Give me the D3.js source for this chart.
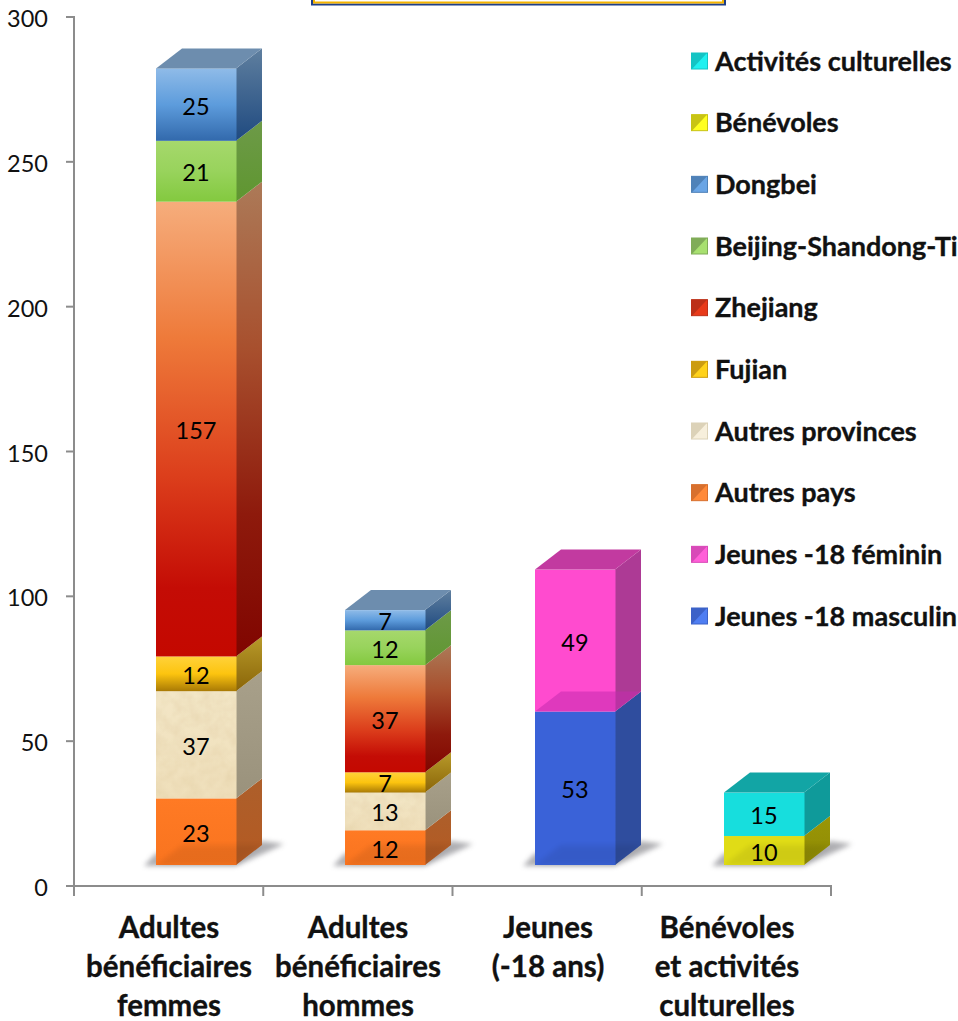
<!DOCTYPE html>
<html><head><meta charset="utf-8">
<script src="https://cdn.jsdelivr.net/npm/d3@7"></script>
<style>html,body{margin:0;padding:0;background:#fff}svg{display:block}text{font-family:Lato,"Open Sans",sans-serif}</style>
</head><body><svg id="c" width="958" height="1021"></svg>
<script>
const categories=[["Adultes","bénéficiaires","femmes"],["Adultes","bénéficiaires","hommes"],["Jeunes","(-18 ans)"],["Bénévoles","et activités","culturelles"]];
const seriesNames=["Jeunes -18 masculin","Jeunes -18 féminin","Autres pays","Autres provinces","Fujian","Zhejiang","Beijing-Shandong-Ti","Dongbei","Bénévoles","Activités culturelles"];
const masculin=[0,0,53,0],feminin=[0,0,49,0],autresPays=[23,12,0,0],autresProv=[37,13,0,0],fujian=[12,7,0,0],zhejiang=[157,37,0,0],beijing=[21,12,0,0],dongbei=[25,7,0,0],benevoles=[0,0,0,10],culturelles=[0,0,0,15];
const seriesValues=[masculin,feminin,autresPays,autresProv,fujian,zhejiang,beijing,dongbei,benevoles,culturelles];
const yTicks=[0,50,100,150,200,250,300];
const fills=[
 [["#3a62d8",0],["#3a62d8",1]],
 [["#ff4bcf",0],["#ff4bcf",1]],
 [["#ff7a24",0],["#f9741f",1]],
 [["#f3e6c6",0],["#efdfba",1]],
 [["#ffd23a",0],["#fcc40f",.5],["#a97a05",1]],
 [["#f6ad7c",0],["#ee7a3a",.3],["#dc3f1c",.6],["#c40c05",.85],["#c40800",1]],
 [["#a6d86c",0],["#98d35c",.5],["#83c93f",1]],
 [["#8fbbe8",0],["#5d9cdc",.5],["#3269ac",1]],
 [["#e0dc16",0],["#e0dc16",1]],
 [["#17dedd",0],["#17dedd",1]]];
const sides=[
 [["#2f4d9e",0],["#2f4d9e",1]],
 [["#ad3a95",0],["#ad3a95",1]],
 [["#ad5f2b",0],["#b45a22",1]],
 [["#a8a08a",0],["#9a927c",1]],
 [["#b89a2a",0],["#8a6508",1]],
 [["#ac7a58",0],["#a8502e",.35],["#8e1a0c",.7],["#800500",1]],
 [["#6d9a48",0],["#5f9630",1]],
 [["#5f7f9f",0],["#1f4a80",1]],
 [["#9a9606",0],["#8f8b05",1]],
 [["#0f9a9a",0],["#0f9a9a",1]]];
const tops=["#2f4d9e","#c23aa0","#c0602a","#b8ae92","#a68a20","#a8603a","#6d9a48","#6d8dae","#9a9606","#12a5a5"];
const swatchLight=["#4f7ef2","#ff5fd8","#ff8a3a","#f7efdc","#ffd21a","#e83a1a","#a8e070","#6aa5e5","#ffff20","#20f0f0"];
const swatchDark=["#3c62c8","#d84ab8","#d8702e","#dcd2b8","#cc9c10","#bc3018","#80ac58","#4f82b8","#c8c414","#14c4c4"];

const svg=d3.select("#c"),defs=svg.append("defs");
const y=d3.scaleLinear().domain([0,300]).range([886,17]);
const x=d3.scaleBand().domain(d3.range(categories.length)).range([74,831]);
const barW=80,depX=26,depY=20,lift=21;
const gradDef=(id,st)=>{const g=defs.append("linearGradient").attr("id",id).attr("x1",0).attr("y1",0).attr("x2",0).attr("y2",1);
 st.forEach(s=>g.append("stop").attr("offset",s[1]).attr("stop-color",s[0]));};
fills.forEach((s,i)=>gradDef("f"+i,s));sides.forEach((s,i)=>gradDef("s"+i,s));
const sf=defs.append("filter").attr("id","blur").attr("x","-30%").attr("y","-100%").attr("width","160%").attr("height","300%");
sf.append("feGaussianBlur").attr("stdDeviation",2.5);
const tx=defs.append("filter").attr("id","tex").attr("x",0).attr("y",0).attr("width","100%").attr("height","100%");
tx.append("feTurbulence").attr("type","fractalNoise").attr("baseFrequency",.08).attr("numOctaves",3).attr("seed",4).attr("result","n");
tx.append("feColorMatrix").attr("in","n").attr("type","matrix").attr("values","0 0 0 0 .76  0 0 0 0 .62  0 0 0 0 .38  .85 0 0 0 -.27").attr("result","m");
tx.append("feComposite").attr("in","m").attr("in2","SourceGraphic").attr("operator","in").attr("result","c");
tx.append("feMerge").call(m=>{m.append("feMergeNode").attr("in","SourceGraphic");m.append("feMergeNode").attr("in","c");});

// title box clipped at the page top
svg.append("rect").attr("x",312).attr("y",-30).attr("width",413).attr("height",34.5).attr("fill","#fff").attr("stroke","#1f3f88").attr("stroke-width",2);
svg.append("rect").attr("x",314).attr("y",-30).attr("width",409).attr("height",32.5).attr("fill","none").attr("stroke","#f5b400").attr("stroke-width",2);

// axes
const ax=svg.append("g").attr("stroke","#8c8c8c").attr("stroke-width",2).attr("fill","none");
ax.append("line").attr("x1",74).attr("x2",74).attr("y1",y(300)-1).attr("y2",y(0));
ax.append("line").attr("x1",66).attr("x2",832).attr("y1",y(0)).attr("y2",y(0));
yTicks.forEach(t=>ax.append("line").attr("x1",66).attr("x2",74).attr("y1",y(t)).attr("y2",y(t)));
d3.range(5).forEach(i=>{const px=i<4?x(i):x(3)+x.bandwidth();ax.append("line").attr("x1",px).attr("x2",px).attr("y1",y(0)).attr("y2",y(0)+10);});
svg.append("g").selectAll("text").data(yTicks).join("text").attr("x",48).attr("y",d=>y(d)+10).attr("text-anchor","end").attr("font-size",23.5).attr("fill","#111").text(d=>d);
categories.forEach((lines,i)=>{const cx=[169,358,548,727][i];
 lines.forEach((l,j)=>svg.append("text").attr("x",cx).attr("y",938+j*39).attr("text-anchor","middle").attr("font-size",29.5).attr("font-weight",700).attr("fill","#111").attr("stroke","#111").attr("stroke-width",.35).text(l));});

// bars
categories.forEach((c,i)=>{
 const fx=[156,345,535,724][i];
 const g=svg.append("g");
 const py=v=>y(v)-lift;
 const pts=a=>a.map(p=>p.join(",")).join(" ");
 g.append("polygon").attr("points",pts([[fx-12,py(0)+1],[fx+barW,py(0)+1],[fx+barW+depX+22,py(0)-depY-1],[fx+barW+depX,py(0)-depY-4],[fx+barW,py(0)-10],[fx,py(0)-12]])).attr("fill","#5f5f66").attr("opacity",.5).attr("filter","url(#blur)");
 let base=0;const segs=[];
 seriesValues.forEach((vals,s)=>{if(vals[i]>0){segs.push({s,v:vals[i],b:base});base+=vals[i];}});
 segs.forEach((d,k)=>{
  const yb=py(d.b),yt=py(d.b+d.v);
  g.append("polygon").attr("points",pts([[fx+barW,yb],[fx+barW+depX,yb-depY],[fx+barW+depX,yt-depY],[fx+barW,yt]])).attr("fill",`url(#s${d.s})`);
  g.append("rect").attr("x",fx).attr("y",yt).attr("width",barW+.5).attr("height",yb-yt).attr("fill",`url(#f${d.s})`).attr("filter",d.s===3?"url(#tex)":null);
  if(k===segs.length-1){
   g.append("polygon").attr("points",pts([[fx,yt],[fx+barW,yt],[fx+barW+depX,yt-depY],[fx+depX,yt-depY]])).attr("fill",tops[d.s]);
  }
  if(d.s===1){ // lower block's lid showing through the translucent block
   g.append("polygon").attr("points",pts([[fx,yb],[fx+barW,yb],[fx+barW+depX,yb-depY],[fx+depX,yb-depY]])).attr("fill","#c42cae").attr("opacity",.55);
  }
  if(k===0){ // floor shadow seen through the lowest block
   g.append("polygon").attr("points",pts([[fx,yb],[fx+barW,yb],[fx+barW+depX,yb-depY],[fx+depX,yb-depY]])).attr("fill","#000").attr("opacity",.07).attr("filter","url(#blur)");
  }
 });
 segs.forEach(d=>{const yb=py(d.b),yt=py(d.b+d.v);
  g.append("text").attr("x",fx+barW/2).attr("y",(yb+yt)/2+10).attr("text-anchor","middle").attr("font-size",23.5).attr("fill","#000").text(d.v);});
});

// legend, top entry is the last series
const leg=svg.append("g");
const legY=d3.scalePoint().domain(d3.range(10)).range([61,616]);
seriesNames.slice().reverse().forEach((n,k)=>{
 const si=seriesNames.length-1-k,cy=legY(k);
 leg.append("rect").attr("x",691.5).attr("y",cy-8).attr("width",16).attr("height",16).attr("fill",swatchLight[si]).attr("stroke",swatchDark[si]).attr("stroke-width",1);
 leg.append("polygon").attr("points",`692,${cy-8} 707,${cy-8} 692,${cy+8}`).attr("fill",swatchDark[si]);
 leg.append("text").attr("x",715).attr("y",cy+9.5).attr("font-size",27).attr("font-weight",700).attr("fill","#111").attr("stroke","#111").attr("stroke-width",.35).text(n);
});
</script></body></html>
